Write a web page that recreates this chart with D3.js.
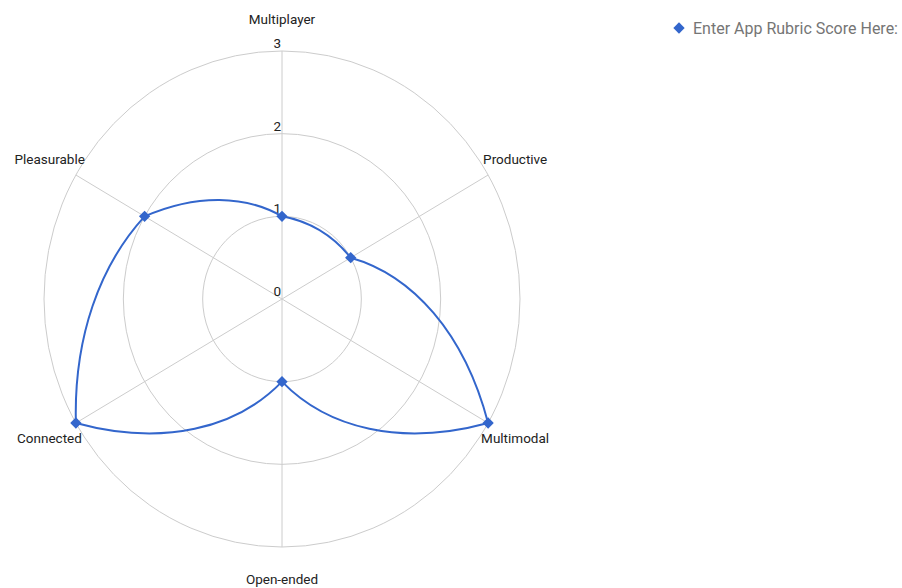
<!DOCTYPE html>
<html>
<head>
<meta charset="utf-8">
<script src="https://cdn.jsdelivr.net/npm/d3@7"></script>
<style>
  html, body { margin: 0; padding: 0; background: #fff; }
  svg { display: block; font-family: Roboto, "Noto Sans", Arial, sans-serif; }
</style>
</head>
<body>
<svg id="chart" width="902" height="588"></svg>
<script>
// ---- data ----
const categories = ["Multiplayer", "Productive", "Multimodal", "Open-ended", "Connected", "Pleasurable"];
const values = [1, 1, 3, 1, 3, 2];
const seriesName = "Enter App Rubric Score Here:";
const tickValues = [0, 1, 2, 3];
const gridValues = [1, 2, 3];

// ---- layout ----
const W = 902, H = 588;
const cx = 282, cy = 299;
const rMax = 3;
const rx = d3.scaleLinear().domain([0, rMax]).range([0, 238]);
const ry = d3.scaleLinear().domain([0, rMax]).range([0, 248]);
const angle = d3.scaleLinear().domain([0, categories.length]).range([0, 2 * Math.PI]);

const blue = "#3366cc";
const grid = "#cccccc";

function pt(theta, r) {
  return [cx + rx(r) * Math.sin(theta), cy - ry(r) * Math.cos(theta)];
}

const svg = d3.select("#chart");

// grid rings (ellipses)
svg.append("g").selectAll("ellipse").data(gridValues).join("ellipse")
  .attr("cx", cx).attr("cy", cy)
  .attr("rx", d => rx(d)).attr("ry", d => ry(d))
  .attr("fill", "none").attr("stroke", grid).attr("stroke-width", 1);

// spokes
svg.append("g").selectAll("line").data(categories).join("line")
  .attr("x1", cx).attr("y1", cy)
  .attr("x2", (d, i) => pt(angle(i), rMax)[0])
  .attr("y2", (d, i) => pt(angle(i), rMax)[1])
  .attr("stroke", grid).attr("stroke-width", 1);

// tick labels
svg.append("g").selectAll("text").data(tickValues).join("text")
  .attr("x", cx - 1)
  .attr("y", d => cy - ry(d) - 3)
  .attr("text-anchor", "end")
  .attr("font-size", 13.5)
  .attr("fill", "#222")
  .text(d => d);

// category labels
const labelLayout = [
  { anchor: "middle", dx: 0, dy: -27 },
  { anchor: "start", dx: -5, dy: -11 },
  { anchor: "start", dx: -7, dy: 20 },
  { anchor: "middle", dx: 0, dy: 37 },
  { anchor: "end", dx: 6, dy: 20 },
  { anchor: "end", dx: 9, dy: -11 }
];
svg.append("g").selectAll("text").data(categories).join("text")
  .attr("x", (d, i) => pt(angle(i), rMax)[0] + labelLayout[i].dx)
  .attr("y", (d, i) => pt(angle(i), rMax)[1] + labelLayout[i].dy)
  .attr("text-anchor", (d, i) => labelLayout[i].anchor)
  .attr("font-size", 13.5)
  .attr("fill", "#222")
  .text(d => d);

// smoothed series curve (segments interpolated in polar space)
const n = categories.length;
const path = d3.path();
const p0 = pt(angle(0), values[0]);
path.moveTo(p0[0], p0[1]);
for (let i = 0; i < n; i++) {
  const j = (i + 1) % n;
  const a0 = angle(i), a1 = angle(i + 1);
  const r0 = values[i], r1 = values[j];
  const c1 = pt(a0 + (a1 - a0) / 3, r0 + (r1 - r0) / 3);
  const c2 = pt(a0 + 2 * (a1 - a0) / 3, r0 + 2 * (r1 - r0) / 3);
  const e = pt(a1, r1);
  path.bezierCurveTo(c1[0], c1[1], c2[0], c2[1], e[0], e[1]);
}
path.closePath();
svg.append("path")
  .attr("d", path.toString())
  .attr("fill", "none")
  .attr("stroke", blue)
  .attr("stroke-width", 2);

// markers
const diamond = d3.symbol().type(d3.symbolSquare).size(64);
svg.append("g").selectAll("path").data(values).join("path")
  .attr("d", diamond())
  .attr("transform", (d, i) => {
    const p = pt(angle(i), d);
    return `translate(${p[0]},${p[1]}) rotate(45)`;
  })
  .attr("fill", blue);

// legend
const lg = svg.append("g").attr("transform", "translate(679,28)");
lg.append("path").attr("d", diamond()).attr("transform", "rotate(45)").attr("fill", blue);
lg.append("text")
  .attr("x", 14).attr("y", 5.5)
  .attr("font-size", 16)
  .attr("fill", "#757575")
  .text(seriesName);
</script>
</body>
</html>
